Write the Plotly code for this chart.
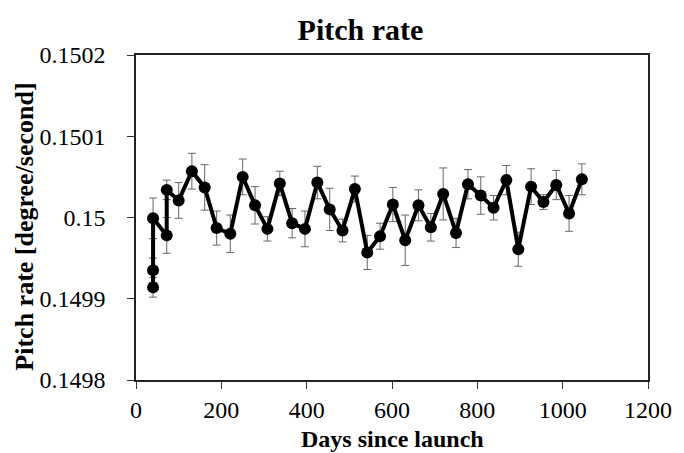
import plotly.graph_objects as go

days = [40, 40, 40, 72, 72, 100, 131, 161, 189, 221, 250, 279, 308, 337, 366, 396, 425,
        454, 484, 513, 542, 572, 602, 631, 662, 691, 720, 750, 778, 808, 838, 868, 896,
        926, 955, 985, 1015, 1045]
pitch_rate = [0.149914, 0.149935, 0.149999, 0.149978, 0.150034, 0.150021, 0.150057,
              0.150037, 0.149987, 0.149980, 0.150050, 0.150015, 0.149986, 0.150042,
              0.149993, 0.149986, 0.150043, 0.150010, 0.149984, 0.150035, 0.149957,
              0.149977, 0.150016, 0.149972, 0.150015, 0.149988, 0.150029, 0.149981,
              0.150041, 0.150027, 0.150012, 0.150046, 0.149961, 0.150038, 0.150019,
              0.150040, 0.150005, 0.150047]
errors = [1.2e-5, 1.5e-5, 2.5e-5, 2.2e-5, 1.2e-5, 2.2e-5, 2.2e-5, 2.8e-5, 2.1e-5, 2.3e-5,
          2.2e-5, 2.3e-5, 1.5e-5, 1.5e-5, 1.8e-5, 2.2e-5, 2.0e-5, 2.6e-5, 1.4e-5, 1.6e-5,
          2.1e-5, 1.6e-5, 2.1e-5, 3.1e-5, 1.9e-5, 1.7e-5, 3.2e-5, 1.8e-5, 1.8e-5, 2.3e-5,
          1.5e-5, 1.8e-5, 2.1e-5, 2.2e-5, 0.9e-5, 1.8e-5, 2.2e-5, 1.9e-5]

x_ticks = [0, 200, 400, 600, 800, 1000, 1200]
y_ticks = [0.1498, 0.1499, 0.1500, 0.1501, 0.1502]
y_tick_labels = ["0.1498", "0.1499", "0.15", "0.1501", "0.1502"]

FONT = "Liberation Serif"

fig = go.Figure()
fig.add_trace(go.Scatter(
    x=days, y=pitch_rate, mode="lines+markers",
    line=dict(color="black", width=4),
    marker=dict(color="black", size=12),
    error_y=dict(type="data", array=errors, visible=True,
                 color="#666666", thickness=1, width=4),
    showlegend=False,
))

fig.update_layout(
    width=684, height=453,
    margin=dict(l=136, r=28, t=55, b=73),
    paper_bgcolor="white", plot_bgcolor="white",
    font=dict(family=FONT, color="black"),
    title=dict(text="<b>Pitch rate</b>", font=dict(family=FONT, size=30, color="black"),
               xref="container", yref="container", x=360.5 / 684, y=1 - 29 / 453,
               xanchor="center", yanchor="middle"),
    annotations=[
        dict(text="<b>Days since launch</b>", xref="paper", yref="paper",
             x=0.5, y=-0.181, xanchor="center", yanchor="middle", showarrow=False,
             font=dict(family=FONT, size=24, color="black")),
        dict(text="<b>Pitch rate [degree/second]</b>", xref="paper", yref="paper",
             x=-0.2173, y=0.471, xanchor="center", yanchor="middle", showarrow=False,
             textangle=-90, font=dict(family=FONT, size=26, color="black")),
    ],
)

fig.update_xaxes(
    range=[0, 1200], tickvals=x_ticks, ticks="outside", ticklen=7, tickcolor="#333",
    showgrid=False, zeroline=False, showline=True, linecolor="#222", linewidth=1.5,
    mirror=True, tickfont=dict(family=FONT, size=24, color="black"),
)
fig.update_yaxes(
    range=[0.1498, 0.1502], tickvals=y_ticks, ticktext=y_tick_labels, ticks="outside",
    ticklen=7, tickcolor="#333", showgrid=False, zeroline=False, showline=True,
    linecolor="#222", linewidth=1.5, mirror=True, ticklabelstandoff=17,
    tickfont=dict(family=FONT, size=24, color="black"),
)

fig.write_html("out.html")
